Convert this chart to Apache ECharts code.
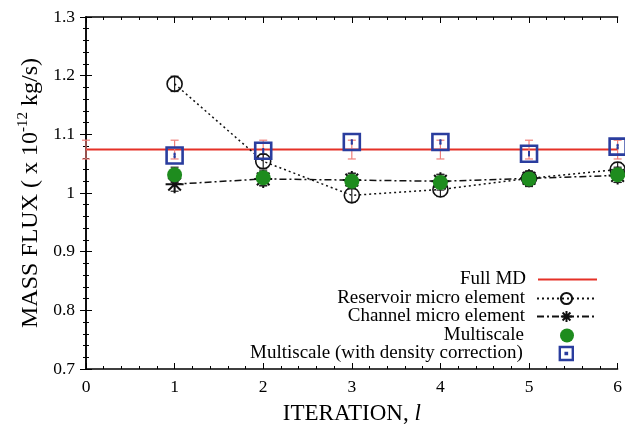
<!DOCTYPE html>
<html><head><meta charset="utf-8">
<script src="https://cdn.jsdelivr.net/npm/echarts@6/dist/echarts.min.js"></script>
<style>html,body{margin:0;padding:0;background:#fff}#c{width:625px;height:430px}</style>
</head><body><div id="c"></div>
<script>
var iterations = [1, 2, 3, 4, 5, 6];
var fullMDIter = [0, 1, 2, 3, 4, 5, 6];
var fullMDValue = 1.074;
var fullMDErr = 0.016;
var reservoir = [1.186, 1.054, 0.996, 1.006, 1.025, 1.040];
var reservoirErr = [0.013, 0.012, 0.012, 0.012, 0.012, 0.012];
var channel = [1.015, 1.024, 1.022, 1.020, 1.025, 1.030];
var channelErr = [0.012, 0.012, 0.012, 0.012, 0.012, 0.012];
var multiscale = [1.031, 1.026, 1.020, 1.018, 1.024, 1.031];
var multiscaleErr = [0.013, 0.013, 0.013, 0.013, 0.013, 0.013];
var density = [1.064, 1.072, 1.087, 1.087, 1.067, 1.079];
var densityErr = [0.003, 0.003, 0.003, 0.003, 0.003, 0.003];
var xTicks = [0, 1, 2, 3, 4, 5, 6];
var yTicks = [0.7, 0.8, 0.9, 1.0, 1.1, 1.2, 1.3];

var names = ['Full MD', 'Reservoir micro element', 'Channel micro element', 'Multiscale', 'Multiscale (with density correction)'];
var FONT = '"Liberation Serif", "DejaVu Serif", serif';
var RED = '#e53127', GREEN = '#1e8c1e', BLUE = '#2a3d9e';
var LEGEND_FS = 19;

function pairs(xs, ys) { return xs.map(function (x, i) { return [x, ys[i]]; }); }
function errData(xs, ys, es) { return xs.map(function (x, i) { return [x, ys[i] - es[i], ys[i] + es[i]]; }); }
function errSeries(data, color, cap, width, z) {
  return {
    type: 'custom', z: z, silent: true, data: data,
    encode: { x: 0, y: [1, 2] },
    renderItem: function (params, api) {
      var lo = api.coord([api.value(0), api.value(1)]);
      var hi = api.coord([api.value(0), api.value(2)]);
      var st = { stroke: color, lineWidth: width };
      return { type: 'group', children: [
        { type: 'line', shape: { x1: lo[0], y1: lo[1], x2: hi[0], y2: hi[1] }, style: st },
        { type: 'line', shape: { x1: lo[0] - cap, y1: lo[1], x2: lo[0] + cap, y2: lo[1] }, style: st },
        { type: 'line', shape: { x1: hi[0] - cap, y1: hi[1], x2: hi[0] + cap, y2: hi[1] }, style: st }
      ] };
    }
  };
}

var fullMDArr = fullMDIter.map(function () { return fullMDValue; });
var fullMDErrArr = fullMDIter.map(function () { return fullMDErr; });
var asterisk = 'path://M-1 0L1 0M-0.7 -0.7L0.7 0.7M-0.7 0.7L0.7 -0.7M0 -1L0 1';
var dotSquare = 'path://M0 0H20V20H0Z M9 9H11V11H9Z';

var xMin = xTicks[0], xMax = xTicks[xTicks.length - 1];
var yMin = yTicks[0], yMax = yTicks[yTicks.length - 1];

function majorAxis(extra) {
  return Object.assign({
    type: 'value',
    axisLine: { lineStyle: { color: '#000', width: 1.5 } },
    splitLine: { show: false },
    axisTick: { inside: true, length: 6, lineStyle: { color: '#000' } },
    axisLabel: { show: false }
  }, extra);
}
function minorAxis(extra) {
  return Object.assign({
    type: 'value',
    axisLine: { show: false },
    splitLine: { show: false },
    axisTick: { inside: true, length: 3, lineStyle: { color: '#000' } },
    axisLabel: { show: false }
  }, extra);
}

function legendFor(i, top, extra) {
  return Object.assign({
    data: [names[i]], right: 28, top: top, orient: 'vertical', align: 'right',
    itemWidth: 59, itemHeight: 14, padding: 0,
    textStyle: { fontFamily: FONT, fontSize: LEGEND_FS, color: '#000', padding: [0, 7, 0, 0] }
  }, extra || {});
}

var option = {
  animation: false,
  backgroundColor: '#fff',
  grid: { left: 86, right: 4, top: 17, bottom: 60 },
  legend: [
    legendFor(0, 270, { icon: 'rect', itemHeight: 2 }),
    legendFor(1, 289),
    legendFor(2, 307),
    legendFor(3, 326, { itemWidth: 14, right: 51, textStyle: { fontFamily: FONT, fontSize: LEGEND_FS, color: '#000', padding: [0, 31, 0, 0] } }),
    legendFor(4, 344, { itemWidth: 13, itemHeight: 13, right: 51, icon: dotSquare,
      itemStyle: { color: 'rgba(0,0,0,0)', borderColor: BLUE, borderWidth: 2.4 },
      textStyle: { fontFamily: FONT, fontSize: LEGEND_FS, color: '#000', padding: [0, 32, 0, 0] } })
  ],
  xAxis: [
    majorAxis({
      min: xMin, max: xMax, interval: 1, position: 'bottom',
      name: '{n|ITERATION, }{i|l}', nameLocation: 'middle', nameGap: 33,
      nameTextStyle: { rich: { n: { fontFamily: FONT, fontSize: 23, color: '#000' }, i: { fontFamily: FONT, fontSize: 23, fontStyle: 'italic', color: '#000' } } },
      axisLabel: { show: true, fontFamily: FONT, fontSize: 17.5, color: '#000', margin: 9 }
    }),
    majorAxis({ min: xMin, max: xMax, interval: 1, position: 'top' }),
    minorAxis({ min: xMin, max: xMax, interval: 0.2, position: 'bottom' }),
    minorAxis({ min: xMin, max: xMax, interval: 0.2, position: 'top' })
  ],
  yAxis: [
    majorAxis({
      min: yMin, max: yMax, interval: 0.1, position: 'left',
      name: '{n|MASS FLUX ( x 10}{s|-12}{n| kg/s)}', nameLocation: 'middle', nameGap: 41, nameRotate: 90,
      nameTextStyle: { rich: {
        n: { fontFamily: FONT, fontSize: 24, color: '#000' },
        s: { fontFamily: FONT, fontSize: 15, color: '#000', verticalAlign: 'top', padding: [0, 0, 14, 0] }
      } },
      axisLabel: { show: true, fontFamily: FONT, fontSize: 17.5, color: '#000', margin: 11,
        formatter: function (v) { return String(Math.round(v * 10) / 10); } }
    }),
    majorAxis({ min: yMin, max: yMax, interval: 0.1, position: 'right' }),
    minorAxis({ min: yMin, max: yMax, interval: 0.02, position: 'left' }),
    minorAxis({ min: yMin, max: yMax, interval: 0.02, position: 'right' })
  ],
  series: [
    {
      name: names[0], type: 'line', z: 2, data: pairs(fullMDIter, fullMDArr),
      symbol: 'none', lineStyle: { color: RED, width: 2 }, itemStyle: { color: RED }
    },
    errSeries(errData(fullMDIter, fullMDArr, fullMDErrArr), '#ef7f7a', 4, 1.2, 3),
    {
      name: names[1], type: 'line', z: 4, data: pairs(iterations, reservoir),
      symbol: 'circle', symbolSize: 15,
      lineStyle: { color: '#111', width: 1.5, type: [2, 3] },
      itemStyle: { color: 'rgba(255,255,255,0)', borderColor: '#111', borderWidth: 1.6 }
    },
    errSeries(errData(iterations, reservoir, reservoirErr), '#222', 4, 1.2, 4),
    {
      name: names[2], type: 'line', z: 5, data: pairs(iterations, channel),
      symbol: asterisk, symbolSize: 18,
      lineStyle: { color: '#111', width: 1.5, type: [7, 3, 2, 3] },
      itemStyle: { color: '#111', borderColor: '#111', borderWidth: 2 }
    },
    errSeries(errData(iterations, channel, channelErr), '#222', 4, 1.2, 5),
    errSeries(errData(iterations, multiscale, multiscaleErr), '#222', 4, 1.2, 6),
    {
      name: names[3], type: 'scatter', z: 7, data: pairs(iterations, multiscale),
      symbol: 'circle', symbolSize: 15, itemStyle: { color: GREEN, opacity: 1 }
    },
    {
      name: names[4], type: 'scatter', z: 8, data: pairs(iterations, density),
      symbol: 'rect', symbolSize: 16,
      itemStyle: { color: 'rgba(255,255,255,0)', borderColor: BLUE, borderWidth: 2.6, opacity: 1 }
    },
    errSeries(errData(iterations, density, densityErr), BLUE, 1, 2, 9)
  ]
};
var chart = echarts.init(document.getElementById('c'), null, { renderer: 'canvas' });
chart.setOption(option);
</script></body></html>
